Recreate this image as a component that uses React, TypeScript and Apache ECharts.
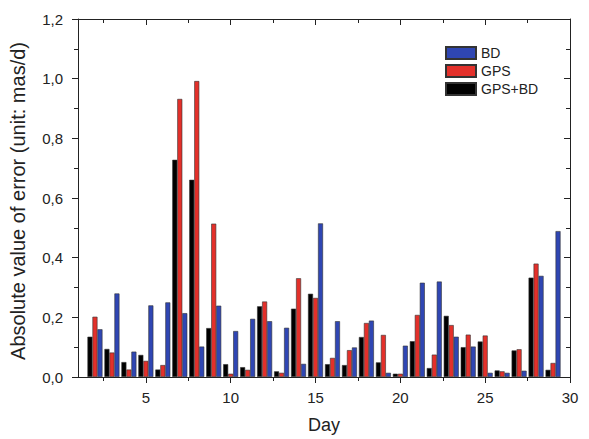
import React, { useEffect, useRef } from "react";
import * as echarts from "echarts";

const days = [2, 3, 4, 5, 6, 7, 8, 9, 10, 11, 12, 13, 14, 15, 16, 17, 18, 19, 20, 21, 22, 23, 24, 25, 26, 27, 28, 29];
const gpsbd = [0.135, 0.094, 0.05, 0.074, 0.025, 0.728, 0.661, 0.164, 0.043, 0.033, 0.237, 0.019, 0.229, 0.279, 0.043, 0.04, 0.134, 0.049, 0.011, 0.12, 0.03, 0.205, 0.1, 0.119, 0.022, 0.089, 0.333, 0.024];
const gps = [0.202, 0.082, 0.025, 0.054, 0.04, 0.932, 0.992, 0.514, 0.011, 0.024, 0.253, 0.014, 0.331, 0.265, 0.064, 0.09, 0.181, 0.141, 0.011, 0.208, 0.075, 0.174, 0.142, 0.139, 0.019, 0.093, 0.38, 0.047];
const bd = [0.16, 0.28, 0.085, 0.24, 0.25, 0.214, 0.102, 0.239, 0.154, 0.195, 0.187, 0.165, 0.044, 0.515, 0.187, 0.099, 0.189, 0.014, 0.105, 0.316, 0.32, 0.135, 0.102, 0.014, 0.014, 0.021, 0.339, 0.489];
const xMajor = [5, 10, 15, 20, 25, 30];
const xMinor = [2.5, 7.5, 12.5, 17.5, 22.5, 27.5];
const yTitle = "Absolute value of error (unit: mas/d)";

const FONT = "Liberation Sans, Arial, sans-serif";

export default function App() {
  const ref = useRef<HTMLDivElement>(null);
  useEffect(() => {
    const chart = echarts.init(ref.current!, null, { renderer: "svg" });
    const grid = { left: 78, right: 19, top: 19, bottom: 61 };
    const lineStyle = { color: "#222", width: 1 };
    const mk = (name: string, vals: number[], color: string) => ({
      name,
      type: "bar",
      xAxisIndex: 0,
      yAxisIndex: 0,
      barWidth: 5,
      barGap: "0%",
      data: days.map((d, i) => [d, vals[i]]),
      itemStyle: { color, borderColor: "#333", borderWidth: 0.6 },
    });
    chart.setOption({
      animation: false,
      backgroundColor: "#fff",
      grid,
      graphic: [
        {
          type: "text",
          x: 18,
          y: 201,
          rotation: Math.PI / 2,
          style: {
            text: yTitle,
            fontFamily: FONT,
            fontSize: 20,
            fill: "#222",
            align: "center",
            verticalAlign: "middle",
          },
        },
      ],
      legend: {
        data: ["BD", "GPS", "GPS+BD"],
        orient: "vertical",
        left: 445,
        top: 46,
        padding: 0,
        itemWidth: 30,
        itemHeight: 12,
        itemGap: 4,
        icon: "rect",
        textStyle: { fontFamily: FONT, fontSize: 14, color: "#222", padding: [0, 0, 0, 0] },
      },
      xAxis: [
        {
          type: "value",
          position: "bottom",
          min: 1,
          max: 30,
          name: "Day",
          nameLocation: "middle",
          nameGap: 39,
          nameTextStyle: { fontFamily: FONT, fontSize: 18, color: "#222" },
          axisLine: { show: true, lineStyle },
          axisTick: { show: true, length: 6, customValues: xMajor, lineStyle },
          axisLabel: { customValues: xMajor, fontFamily: FONT, fontSize: 15, color: "#222", margin: 13 },
          splitLine: { show: false },
        },
        {
          type: "value",
          position: "bottom",
          min: 1,
          max: 30,
          axisLine: { show: false },
          axisTick: { show: true, length: 4, customValues: xMinor, lineStyle },
          axisLabel: { show: false },
          splitLine: { show: false },
        },
        {
          type: "value",
          position: "top",
          min: 1,
          max: 30,
          axisLine: { show: true, lineStyle },
          axisTick: { show: true, inside: true, length: 6, customValues: xMajor, lineStyle },
          axisLabel: { show: false },
          splitLine: { show: false },
        },
        {
          type: "value",
          position: "top",
          min: 1,
          max: 30,
          axisLine: { show: false },
          axisTick: { show: true, inside: true, length: 4, customValues: xMinor, lineStyle },
          axisLabel: { show: false },
          splitLine: { show: false },
        },
      ],
      yAxis: [
        {
          type: "value",
          position: "left",
          min: 0,
          max: 1.2,
          interval: 0.2,
          axisLine: { show: true, lineStyle },
          axisTick: { show: true, length: 6, lineStyle },
          minorTick: { show: true, splitNumber: 2, length: 4, lineStyle },
          axisLabel: {
            fontFamily: FONT,
            fontSize: 15,
            color: "#222",
            margin: 15,
            formatter: (v: number) => v.toFixed(1).replace(".", ","),
          },
          splitLine: { show: false },
        },
        {
          type: "value",
          position: "right",
          min: 0,
          max: 1.2,
          interval: 0.2,
          axisLine: { show: true, lineStyle },
          axisTick: { show: true, inside: true, length: 6, lineStyle },
          minorTick: { show: true, splitNumber: 2, length: 4, lineStyle },
          axisLabel: { show: false },
          splitLine: { show: false },
        },
      ],
      series: [
        mk("GPS+BD", gpsbd, "#000000"),
        mk("GPS", gps, "#e3302a"),
        mk("BD", bd, "#2f46b3"),
      ],
    });
    return () => chart.dispose();
  }, []);
  return <div ref={ref} style={{ width: 589, height: 439, position: "absolute", left: 0, top: 0 }} />;
}
